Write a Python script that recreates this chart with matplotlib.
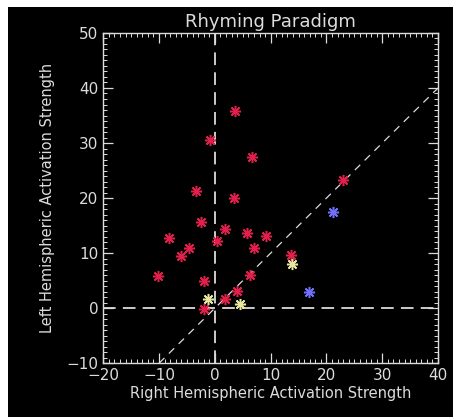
import numpy as np
import matplotlib.pyplot as plt
from matplotlib.patches import Rectangle
from matplotlib.ticker import MultipleLocator

# Right (x) vs left (y) hemispheric activation strength
red_x = [3.6, -0.9, 6.6, -3.4, 3.4, -2.4, 1.8, 5.8, 9.1, -8.2, 0.3,
         -4.7, 7.1, -6.1, 13.6, -10.2, -1.9, 6.3, 4.0, 1.8, -1.9, 23.0]
red_y = [35.9, 30.5, 27.5, 21.3, 20.0, 15.7, 14.3, 13.7, 13.1, 12.8, 12.2,
         10.9, 10.9, 9.5, 9.7, 5.8, 5.0, 6.1, 3.1, 1.6, -0.2, 23.3]
yellow_x = [-1.3, 4.5, 13.8]
yellow_y = [1.6, 0.7, 8.1]
blue_x = [16.8, 21.1]
blue_y = [3.0, 17.5]

fg = '#dcdcdc'

fig = plt.figure(figsize=(4.53, 4.17), dpi=100)
fig.patch.set_facecolor('white')
# black panel, white strip only at top and left
fig.patches.append(Rectangle((8 / 453, 0), 1, 1 - 7 / 417, transform=fig.transFigure,
                             facecolor='black', edgecolor='none', zorder=-10))

ax = fig.add_axes([0.228, 0.129, 0.739, 0.792])
ax.set_facecolor('black')

# reference lines
ax.axvline(0, color=fg, lw=1.3, ls=(0, (7, 4)))
ax.axhline(0, color=fg, lw=1.3, ls=(0, (7, 4)))
ax.plot([-10, 40], [-10, 40], color=fg, lw=0.9, ls=(0, (6, 5)))

mk = dict(marker=(8, 2, 0), ls='none', markersize=8, mew=1.1)
ax.plot(red_x, red_y, color='#e0204a', **mk)
ax.plot(yellow_x, yellow_y, color='#e8e6a0', **mk)
ax.plot(blue_x, blue_y, color='#7070ff', **mk)

ax.set_xlim(-20, 40)
ax.set_ylim(-10, 50)
ax.xaxis.set_major_locator(MultipleLocator(10))
ax.xaxis.set_minor_locator(MultipleLocator(1))
ax.yaxis.set_major_locator(MultipleLocator(10))
ax.yaxis.set_minor_locator(MultipleLocator(1))
ax.tick_params(which='both', direction='in', top=True, right=True, colors=fg,
               labelsize=11)
ax.tick_params(which='major', length=7, width=0.9)
ax.tick_params(which='minor', length=3, width=0.7)
for s in ax.spines.values():
    s.set_color(fg)
    s.set_linewidth(1)

ax.set_title('Rhyming Paradigm', color=fg, fontsize=13, pad=4)
ax.set_xlabel('Right Hemispheric Activation Strength', color=fg, fontsize=10.5,
              labelpad=2)
ax.set_ylabel('Left Hemispheric Activation Strength', color=fg, fontsize=10.5,
              labelpad=8)

fig.savefig('out.png', dpi=100, facecolor=fig.get_facecolor())
